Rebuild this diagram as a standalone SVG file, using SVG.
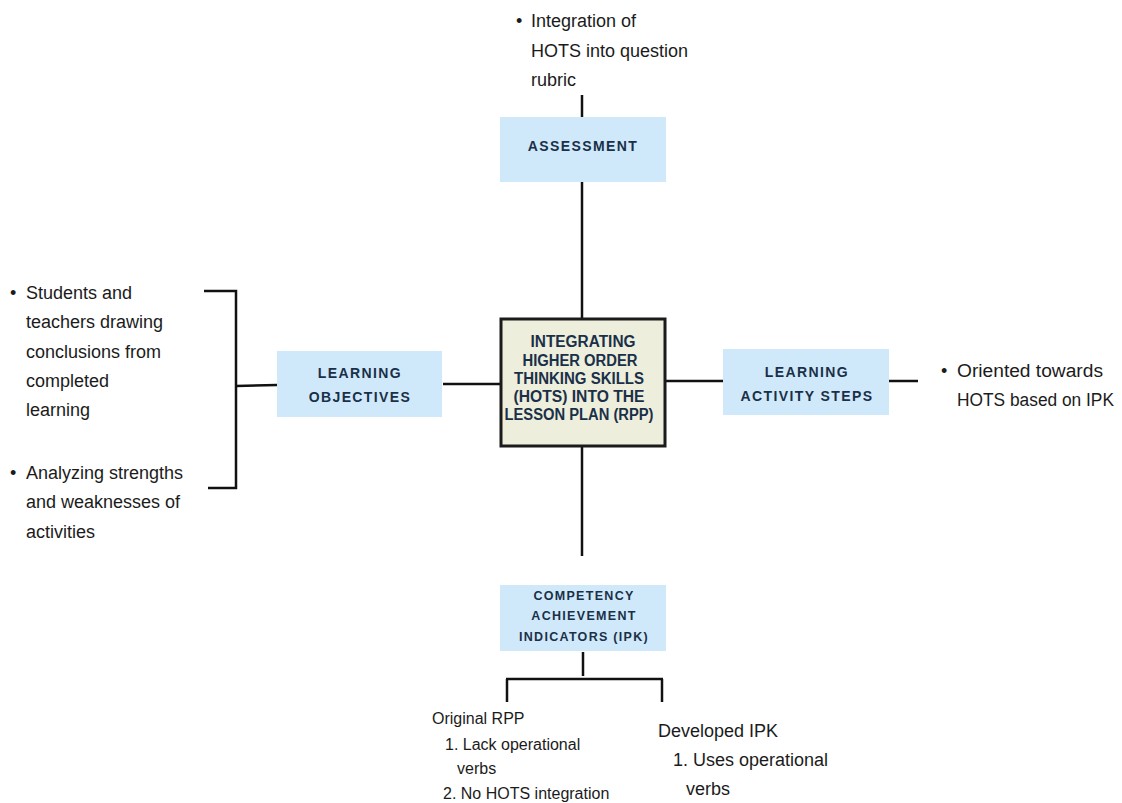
<svg xmlns="http://www.w3.org/2000/svg" width="1122" height="803" viewBox="0 0 1122 803">
<style>
.bg{fill:#ffffff}
.box{fill:#d0e9fa}
.center{fill:#eeeedd;stroke:#1b1b1b;stroke-width:3}
.lbl{font-family:"Liberation Sans",Arial,sans-serif;font-weight:bold;font-size:14px;letter-spacing:1.4px;fill:#1a3048;text-anchor:middle}
.lbl2{font-family:"Liberation Sans",Arial,sans-serif;font-weight:bold;font-size:12.5px;letter-spacing:1.3px;fill:#1a3048;text-anchor:middle}
.ctr{font-family:"Liberation Sans",Arial,sans-serif;font-weight:bold;font-size:16px;fill:#1a3048;text-anchor:middle}
.txt{font-family:"Liberation Sans",Arial,sans-serif;font-size:18px;fill:#1b1b1b}
.sm{font-family:"Liberation Sans",Arial,sans-serif;font-size:16px;fill:#1b1b1b}
.ln{stroke:#111;stroke-width:2.5;fill:none}
</style>
<rect class="bg" x="0" y="0" width="1122" height="803"/>
<g id="connectors">
<path class="ln" d="M582 95V117"/>
<path class="ln" d="M582 182V318"/>
<path class="ln" d="M443 384H500"/>
<path class="ln" d="M204 291H236V488H208"/>
<path class="ln" d="M236 386L277 385"/>
<path class="ln" d="M665 381H723"/>
<path class="ln" d="M889 381H918"/>
<path class="ln" d="M582 447V556"/>
<path class="ln" d="M583 652V676"/>
<path class="ln" d="M506 679H663"/>
<path class="ln" d="M507 679V702"/>
<path class="ln" d="M662 679V702"/>
</g>
<g id="center">
<rect class="center" x="501" y="319" width="164" height="127"/>
<text class="ctr" x="583" y="347" textLength="105" lengthAdjust="spacingAndGlyphs">INTEGRATING</text>
<text class="ctr" x="580" y="366" textLength="115" lengthAdjust="spacingAndGlyphs">HIGHER ORDER</text>
<text class="ctr" x="579" y="384" textLength="130" lengthAdjust="spacingAndGlyphs">THINKING SKILLS</text>
<text class="ctr" x="579" y="402" textLength="131" lengthAdjust="spacingAndGlyphs">(HOTS) INTO THE</text>
<text class="ctr" x="579" y="420" textLength="149" lengthAdjust="spacingAndGlyphs">LESSON PLAN (RPP)</text>
</g>
<g id="assessment">
<rect class="box" x="500" y="117" width="166" height="65"/>
<text class="lbl" x="583" y="151">ASSESSMENT</text>
</g>
<g id="assessment-note">
<text class="txt" x="516" y="27">•</text>
<text class="txt" x="531" y="27">Integration of</text>
<text class="txt" x="531" y="57">HOTS into question</text>
<text class="txt" x="531" y="86">rubric</text>
</g>
<g id="learning-objectives">
<rect class="box" x="277" y="351" width="165" height="66"/>
<text class="lbl" x="360" y="378">LEARNING</text>
<text class="lbl" x="360" y="402">OBJECTIVES</text>
</g>
<g id="objectives-notes">
<text class="txt" x="10" y="299">•</text>
<text class="txt" x="26" y="299">Students and</text>
<text class="txt" x="26" y="328">teachers drawing</text>
<text class="txt" x="26" y="358">conclusions from</text>
<text class="txt" x="26" y="387">completed</text>
<text class="txt" x="26" y="416">learning</text>
<text class="txt" x="10" y="479">•</text>
<text class="txt" x="26" y="479">Analyzing strengths</text>
<text class="txt" x="26" y="508">and weaknesses of</text>
<text class="txt" x="26" y="538">activities</text>
</g>
<g id="learning-activity-steps">
<rect class="box" x="723" y="349" width="166" height="66"/>
<text class="lbl" x="807" y="377">LEARNING</text>
<text class="lbl" x="807" y="401">ACTIVITY STEPS</text>
</g>
<g id="activity-note">
<text class="txt" x="941" y="377">•</text>
<text class="txt" x="957" y="377" textLength="146" lengthAdjust="spacingAndGlyphs">Oriented towards</text>
<text class="txt" x="957" y="406" textLength="157" lengthAdjust="spacingAndGlyphs">HOTS based on IPK</text>
</g>
<g id="competency">
<rect class="box" x="500" y="585" width="166" height="66"/>
<text class="lbl2" x="584" y="600">COMPETENCY</text>
<text class="lbl2" x="584" y="620">ACHIEVEMENT</text>
<text class="lbl2" x="584" y="641">INDICATORS (IPK)</text>
</g>
<g id="original-rpp">
<text class="sm" x="432" y="724">Original RPP</text>
<text class="sm" x="445" y="750">1. Lack operational</text>
<text class="sm" x="457" y="774">verbs</text>
<text class="sm" x="443" y="799">2. No HOTS integration</text>
</g>
<g id="developed-ipk">
<text class="txt" x="658" y="737">Developed IPK</text>
<text class="txt" x="673" y="766">1. Uses operational</text>
<text class="txt" x="686" y="795">verbs</text>
</g>
</svg>
